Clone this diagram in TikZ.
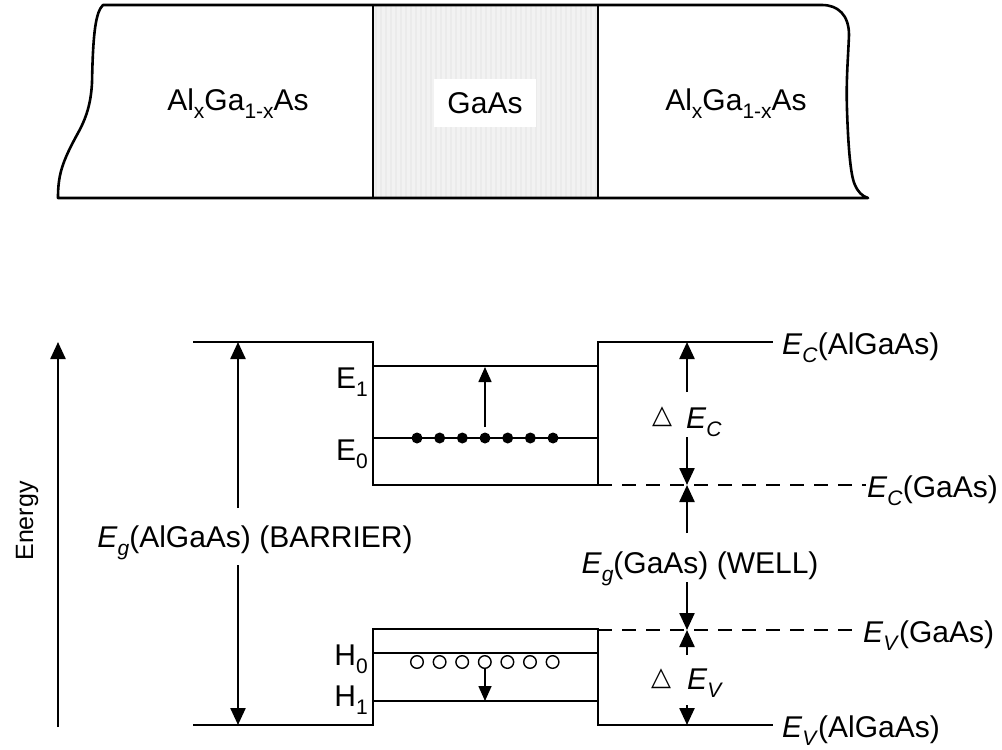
\documentclass[tikz,border=0pt]{standalone}
\usepackage{fontspec}
\setmainfont{Liberation Sans}
\newfontfamily\symfont{DejaVu Sans}
\usetikzlibrary{arrows.meta}
\newcommand\lsub[1]{\raisebox{-8pt}{\fontsize{21}{21}\selectfont #1}}
\begin{document}
\begin{tikzpicture}[x=1pt,y=-1pt,
  font=\fontsize{30}{36}\selectfont,
  slab/.style={line width=2.6pt, line join=round},
  level/.style={line width=2.8pt, line join=miter},
  dashlevel/.style={line width=1.6pt, dash pattern=on 14pt off 10pt},
  bigarrow/.style={line width=2.4pt, -{Triangle[length=17pt,width=15pt]}},
  smallarrow/.style={line width=1.6pt, -{Triangle[length=15pt,width=13pt]}},
  lbl/.style={inner sep=0pt, anchor=base west},
  lble/.style={inner sep=0pt, anchor=base east}]
\useasboundingbox (0,0) rectangle (1002,750);

% ---------- layered structure ----------
\fill[black!5] (373,5) rectangle (598,198);
\foreach \x in {376,381,...,596} \draw[black!8, line width=1.5pt] (\x,5) -- (\x,198);
\draw[slab] (103,5) -- (822,5)
  .. controls (838,5) and (849,15) .. (849,35)
  .. controls (848,60) and (846,80) .. (847,110)
  .. controls (848,140) and (850,175) .. (855,185)
  .. controls (858,192) and (862,196) .. (868,198)
  -- (58,198)
  .. controls (58,175) and (62,162) .. (78,133)
  .. controls (88,115) and (91,100) .. (92,83)
  .. controls (93,30) and (96,12) .. (103,5) -- cycle;
\draw[slab] (373,5) -- (373,198);
\draw[slab] (598,5) -- (598,198);
\node (gaas) [fill=white, minimum width=102pt, minimum height=48pt, inner sep=0pt] at (485,103) {GaAs};
\node (algaasL) [inner sep=0pt, anchor=base] at (238,110) {Al\lsub{x}Ga\lsub{1-x}As};
\node (algaasR) [inner sep=0pt, anchor=base] at (736,110) {Al\lsub{x}Ga\lsub{1-x}As};

% ---------- band diagram ----------
% conduction band
\draw[level] (193,342) -- (373,342) -- (373,485) -- (598,485) -- (598,342) -- (773,342);
\draw[level] (373,366) -- (598,366);
\draw[level] (373,438) -- (598,438);
% valence band
\draw[level] (193,725) -- (373,725) -- (373,629) -- (598,629) -- (598,725) -- (773,725);
\draw[level] (373,653) -- (598,653);
\draw[level] (373,701) -- (598,701);
% dashed GaAs band edges
\draw[dashlevel] (598,485) -- (866,485);
\draw[dashlevel] (598,630) -- (862,630);

% electrons and holes
\foreach \i in {0,...,6} \fill ({417+22.67*\i},438) circle (5.5);
\foreach \i in {0,...,6} \draw[line width=1.4pt, fill=white] ({417+22.6*\i},662) circle (6.3);

% coordinates
\coordinate (en0) at (58,727);
\coordinate (en1) at (58,342);
\coordinate (bT) at (238,342);
\coordinate (bB) at (238,725);
\coordinate (e0) at (485,427);
\coordinate (e1) at (485,367);
\coordinate (h0) at (485,668);
\coordinate (h1) at (485,701);
\coordinate (dcA) at (687,392);
\coordinate (dcT) at (687,342);
\coordinate (dcB) at (687,437);
\coordinate (ecW) at (687,485);
\coordinate (gwA) at (687,533);
\coordinate (gwB) at (687,582);
\coordinate (evW) at (687,630);
\coordinate (dvA) at (687,655);
\coordinate (dvB) at (687,705);
\coordinate (evA) at (687,725);

% Energy axis
\draw[bigarrow] (en0) -- (en1);
\node (energy) [rotate=90, anchor=base, inner sep=0pt, font=\fontsize{25}{28}\selectfont] at (33,521) {Energy};

% barrier gap
\node (egb) [inner sep=0pt, anchor=base] at (255,547) {\textit{E}\lsub{\textit{g}}(AlGaAs) (BARRIER)};
\draw[bigarrow] (238,508) -- (bT);
\draw[bigarrow] (238,565) -- (bB);

% transitions in the well
\draw[smallarrow] (e0) -- (e1);
\draw[smallarrow] (h0) -- (h1);

% offsets
\draw[bigarrow] (dcA) -- (dcT);
\draw[bigarrow] (dcB) -- (ecW);
\draw[bigarrow] (gwA) -- (ecW);
\draw[bigarrow] (gwB) -- (evW);
\draw[bigarrow] (dvA) -- (evW);
\draw[bigarrow] (dvB) -- (evA);

% labels
\node (E1) [lble] at (368,388) {E\lsub{1}};
\node (E0) [lble] at (368,460) {E\lsub{0}};
\node (H0) [lble] at (368,665) {H\lsub{0}};
\node (H1) [lble] at (368,706) {H\lsub{1}};

\node (tc) [inner sep=0pt, font=\symfont\fontsize{26}{30}\selectfont] at (662,417) {△};
\node (dEc) [lbl] at (686,428) {\textit{E}\lsub{\textit{C}}};
\node (tv) [inner sep=0pt, font=\symfont\fontsize{26}{30}\selectfont] at (661,679) {△};
\node (dEv) [lbl] at (687,689) {\textit{E}\lsub{\textit{V}}};

\node (egw) [inner sep=0pt, anchor=base] at (700,573) {\textit{E}\lsub{\textit{g}}(GaAs) (WELL)};

\node (ecal) [lbl] at (782,354) {\textit{E}\lsub{\textit{C}}(AlGaAs)};
\node (ecga) [lbl] at (867,497) {\textit{E}\lsub{\textit{C}}(GaAs)};
\node (evga) [lbl] at (863,642) {\textit{E}\lsub{\textit{V}}(GaAs)};
\node (eval) [lbl] at (782,737) {\textit{E}\lsub{\textit{V}}(AlGaAs)};
\end{tikzpicture}
\end{document}
